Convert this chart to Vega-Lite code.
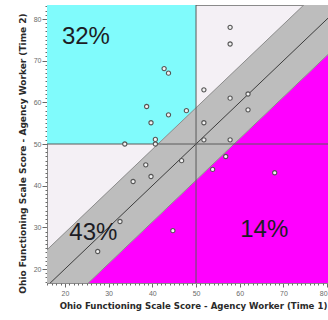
{
  "$schema": "https://vega.github.io/schema/vega-lite/v6.json",
  "autosize": "none",
  "width": 281,
  "height": 278,
  "padding": {"left": 47, "top": 5, "right": 0, "bottom": 37},
  "background": "white",
  "config": {
    "view": {"fill": "#f4f0f5", "stroke": "#8a8a8a", "strokeWidth": 1},
    "axis": {
      "labelFont": "Liberation Sans",
      "labelFontSize": 7,
      "labelColor": "#6a6a6a",
      "tickColor": "#6a6a6a",
      "domainColor": "#8a8a8a",
      "grid": false,
      "titleFont": "DejaVu Sans",
      "titleFontWeight": "bold",
      "titleFontSize": 8.6,
      "titleColor": "#2a2a2a"
    }
  },
  "resolve": {"axis": {"x": "independent", "y": "independent"}},
  "datasets": {
    "points": [
      {"t1": 42.7, "t2": 68.1}, {"t1": 43.7, "t2": 67.0}, {"t1": 51.8, "t2": 63.0},
      {"t1": 38.7, "t2": 59.0}, {"t1": 43.7, "t2": 57.0}, {"t1": 47.8, "t2": 58.0},
      {"t1": 39.7, "t2": 55.1}, {"t1": 51.8, "t2": 55.1}, {"t1": 40.7, "t2": 51.1},
      {"t1": 40.7, "t2": 50.0}, {"t1": 33.7, "t2": 50.0}, {"t1": 51.8, "t2": 51.0},
      {"t1": 57.8, "t2": 78.0}, {"t1": 57.8, "t2": 74.0}, {"t1": 57.8, "t2": 61.0},
      {"t1": 61.9, "t2": 62.0}, {"t1": 61.9, "t2": 58.2}, {"t1": 38.5, "t2": 45.0},
      {"t1": 46.7, "t2": 46.0}, {"t1": 35.6, "t2": 41.0}, {"t1": 39.7, "t2": 42.2},
      {"t1": 32.6, "t2": 31.4}, {"t1": 27.5, "t2": 24.2}, {"t1": 44.7, "t2": 29.2},
      {"t1": 57.8, "t2": 51.0}, {"t1": 56.8, "t2": 47.0}, {"t1": 53.8, "t2": 43.9},
      {"t1": 68.0, "t2": 43.1}
    ],
    "band": [
      {"t1": 0, "lower": -8.7, "upper": 8.7, "floor": 0},
      {"t1": 100, "lower": 91.3, "upper": 108.7, "floor": 0}
    ],
    "quadrant": [
      {"x1": 0, "x2": 50, "y1": 50, "y2": 100}
    ],
    "shares": [
      {"t1": 24.8, "t2": 75.7, "label": "32%"},
      {"t1": 26.5, "t2": 28.6, "label": "43%"},
      {"t1": 65.6, "t2": 29.4, "label": "14%"}
    ]
  },
  "layer": [
    {
      "data": {"name": "quadrant"},
      "mark": {"type": "rect", "color": "#80fbfc", "clip": true},
      "encoding": {
        "x": {
          "field": "x1", "type": "quantitative",
          "scale": {"domain": [15.9, 80.2], "nice": false, "zero": false},
          "axis": {
            "orient": "bottom",
            "values": [20, 30, 40, 50, 60, 70, 80],
            "tickSize": 4,
            "labelPadding": 2,
            "title": "Ohio Functioning Scale Score - Agency Worker (Time 1)",
            "titlePadding": 5,
            "titleX": 146
          }
        },
        "x2": {"field": "x2"},
        "y": {
          "field": "y1", "type": "quantitative",
          "scale": {"domain": [16.64, 83.36], "nice": false, "zero": false},
          "axis": {
            "orient": "left",
            "values": [20, 30, 40, 50, 60, 70, 80],
            "tickSize": 5,
            "labelPadding": 1,
            "title": "Ohio Functioning Scale Score - Agency Worker (Time 2)",
            "titleFontSize": 9,
            "titlePadding": 6,
            "titleY": 148
          }
        },
        "y2": {"field": "y2"}
      }
    },
    {
      "data": {"name": "band"},
      "mark": {"type": "area", "color": "#ff00ff", "clip": true},
      "encoding": {
        "x": {
          "field": "t1", "type": "quantitative",
          "axis": {
            "orient": "bottom",
            "values": [16, 17, 18, 19, 21, 22, 23, 24, 25, 26, 27, 28, 29, 31, 32, 33, 34, 35, 36, 37, 38, 39, 41, 42, 43, 44, 45, 46, 47, 48, 49, 51, 52, 53, 54, 55, 56, 57, 58, 59, 61, 62, 63, 64, 65, 66, 67, 68, 69, 71, 72, 73, 74, 75, 76, 77, 78, 79],
            "labels": false, "title": null, "domain": false, "tickSize": 2
          }
        },
        "y": {
          "field": "lower", "type": "quantitative",
          "axis": {
            "orient": "left",
            "values": [17, 18, 19, 21, 22, 23, 24, 25, 26, 27, 28, 29, 31, 32, 33, 34, 35, 36, 37, 38, 39, 41, 42, 43, 44, 45, 46, 47, 48, 49, 51, 52, 53, 54, 55, 56, 57, 58, 59, 61, 62, 63, 64, 65, 66, 67, 68, 69, 71, 72, 73, 74, 75, 76, 77, 78, 79, 81, 82, 83],
            "labels": false, "title": null, "domain": false, "tickSize": 2
          }
        },
        "y2": {"field": "floor"}
      }
    },
    {
      "data": {"name": "band"},
      "mark": {"type": "area", "color": "#bdbdbd", "clip": true},
      "encoding": {
        "x": {"field": "t1", "type": "quantitative", "axis": null},
        "y": {"field": "upper", "type": "quantitative", "axis": null},
        "y2": {"field": "lower"}
      }
    },
    {
      "data": {"name": "band"},
      "mark": {"type": "line", "color": "#8c8c8c", "strokeWidth": 1, "clip": true},
      "encoding": {
        "x": {"field": "t1", "type": "quantitative", "axis": null},
        "y": {"field": "upper", "type": "quantitative", "axis": null}
      }
    },
    {
      "data": {"name": "band"},
      "mark": {"type": "line", "color": "#8c8c8c", "strokeWidth": 1, "clip": true},
      "encoding": {
        "x": {"field": "t1", "type": "quantitative", "axis": null},
        "y": {"field": "lower", "type": "quantitative", "axis": null}
      }
    },
    {
      "data": {"name": "band"},
      "mark": {"type": "line", "color": "#3c3c3c", "strokeWidth": 1, "clip": true},
      "encoding": {
        "x": {"field": "t1", "type": "quantitative", "axis": null},
        "y": {"field": "t1", "type": "quantitative", "axis": null}
      }
    },
    {
      "data": {"values": [{"v": 50}]},
      "mark": {"type": "rule", "color": "#5a5a5a", "strokeWidth": 1},
      "encoding": {"x": {"field": "v", "type": "quantitative", "axis": null}}
    },
    {
      "data": {"values": [{"v": 50}]},
      "mark": {"type": "rule", "color": "#5a5a5a", "strokeWidth": 1},
      "encoding": {"y": {"field": "v", "type": "quantitative", "axis": null}}
    },
    {
      "data": {"name": "points"},
      "mark": {"type": "point", "shape": "circle", "filled": false, "fill": "#f2f2f2", "fillOpacity": 1, "stroke": "#555555", "strokeWidth": 1.1, "size": 18, "opacity": 1},
      "encoding": {
        "x": {"field": "t1", "type": "quantitative", "axis": null},
        "y": {"field": "t2", "type": "quantitative", "axis": null}
      }
    },
    {
      "data": {"name": "shares"},
      "mark": {"type": "text", "font": "Liberation Sans", "fontSize": 24, "color": "#1c1c24", "baseline": "middle", "align": "center"},
      "encoding": {
        "x": {"field": "t1", "type": "quantitative", "axis": null},
        "y": {"field": "t2", "type": "quantitative", "axis": null},
        "text": {"field": "label"}
      }
    }
  ]
}
